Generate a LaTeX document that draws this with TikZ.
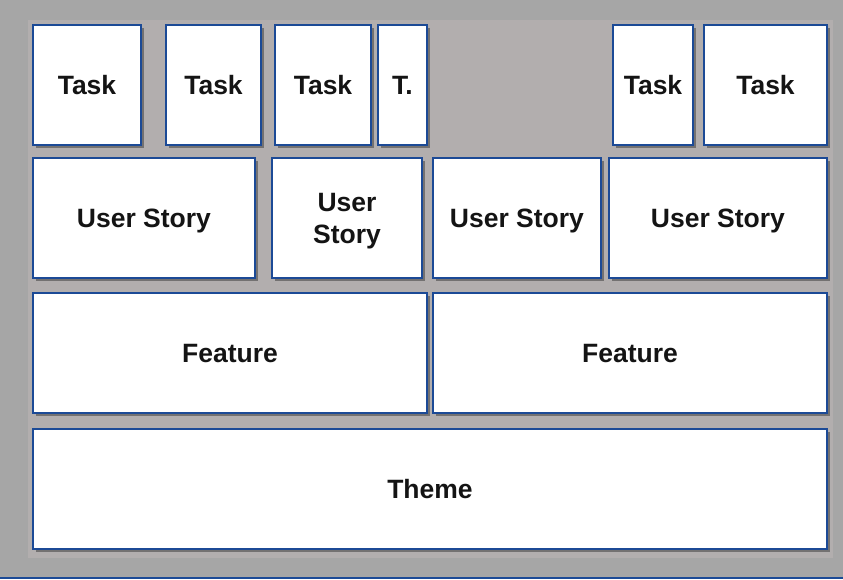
\documentclass[tikz,border=0pt]{standalone}
\usepackage{fontspec}
\setmainfont{Liberation Sans}
\usetikzlibrary{shadows}
\definecolor{outerbg}{RGB}{166,166,166}
\definecolor{panelbg}{RGB}{178,174,174}
\definecolor{edgeblue}{RGB}{28,74,150}
\definecolor{ink}{RGB}{20,20,20}
\tikzset{
  card/.style={draw=edgeblue, line width=1.6pt, fill=white, inner sep=0pt,
    outer sep=0pt, anchor=north west, text depth=0pt,
    font=\fontsize{26.5}{32}\selectfont\bfseries, text=ink, align=center,
    drop shadow={shadow xshift=3pt, shadow yshift=-3pt, fill=black, opacity=0.35}},
}
% place a card by its corners: name, left, top, right, text, bottom
\newcommand\card[6]{%
  \node[card, minimum width=#4pt-#2pt, minimum height=#6pt-#3pt] (#1) at (#2pt,-#3pt) {#5};}
\begin{document}
\begin{tikzpicture}[x=1pt,y=-1pt]
  \useasboundingbox (0,0) rectangle (843,579);
  \fill[outerbg] (0,0) rectangle (843,579);
  \fill[panelbg] (28,20) rectangle (833,558);
  \draw[edgeblue, line width=1.5pt] (0,578) -- (843,578);
  % tasks
  \card{t1}{33}{25}{141}{Task}{145}
  \card{t2}{166}{25}{261}{Task}{145}
  \card{t3}{275}{25}{371}{Task}{145}
  \card{t4}{378}{25}{427}{T.}{145}
  \card{t5}{613}{25}{693}{Task}{145}
  \card{t6}{704}{25}{827}{Task}{145}
  % user stories
  \card{u1}{33}{158}{255}{User Story}{278}
  \card{u2}{272}{158}{422}{User\\Story}{278}
  \card{u3}{433}{158}{601}{User Story}{278}
  \card{u4}{609}{158}{827}{User Story}{278}
  % features
  \card{f1}{33}{293}{427}{Feature}{413}
  \card{f2}{433}{293}{827}{Feature}{413}
  % theme
  \card{th}{33}{429}{827}{Theme}{549}
\end{tikzpicture}
\end{document}
